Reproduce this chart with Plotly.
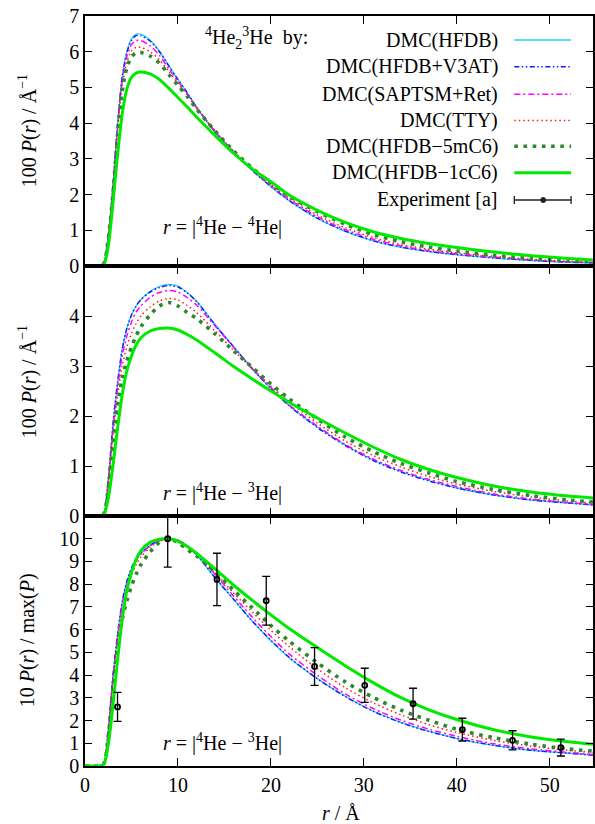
import plotly.graph_objects as go
from plotly.subplots import make_subplots

# ---------------- data ----------------
r_grid = [0, 1.0, 1.5, 2.0, 2.5, 3.0, 3.5, 4.0, 4.5, 5.0, 5.5, 6.0, 7.0, 8.0, 9.0, 10, 11, 12,
          14, 16, 18, 20, 22, 25, 28, 31, 34, 37, 40, 44, 48, 52, 54.7]

# panel 1 : 100 P(r), r = |4He - 4He|
p1_hfdb = [0, 0, 0, 0.08, 0.85, 2.2, 3.95, 5.3, 6.0, 6.36, 6.49, 6.49, 6.32, 6.02, 5.62, 5.22, 4.85, 4.45,
           3.75, 3.18, 2.67, 2.22, 1.82, 1.33, 0.97, 0.7, 0.52, 0.4, 0.31, 0.22, 0.15, 0.1, 0.08]
p1_v3at = [0, 0, 0, 0.08, 0.85, 2.2, 3.95, 5.28, 5.97, 6.32, 6.45, 6.45, 6.3, 6.0, 5.61, 5.22, 4.85, 4.45,
           3.76, 3.19, 2.68, 2.23, 1.83, 1.34, 0.98, 0.71, 0.53, 0.41, 0.32, 0.23, 0.16, 0.11, 0.09]
p1_sapt = [0, 0, 0, 0.08, 0.83, 2.15, 3.88, 5.18, 5.86, 6.2, 6.31, 6.31, 6.17, 5.9, 5.53, 5.17, 4.82, 4.43,
           3.77, 3.2, 2.7, 2.25, 1.86, 1.38, 1.02, 0.75, 0.56, 0.43, 0.34, 0.25, 0.17, 0.12, 0.1]
p1_tty = [0, 0, 0, 0.07, 0.8, 2.1, 3.78, 5.03, 5.7, 6.02, 6.12, 6.12, 6.0, 5.78, 5.45, 5.12, 4.79, 4.42,
          3.78, 3.21, 2.72, 2.28, 1.9, 1.43, 1.07, 0.8, 0.6, 0.47, 0.37, 0.27, 0.19, 0.13, 0.11]
p1_5mc6 = [0, 0, 0, 0.06, 0.75, 2.0, 3.65, 4.9, 5.55, 5.86, 5.97, 5.98, 5.88, 5.68, 5.37, 5.06, 4.75, 4.4,
           3.78, 3.22, 2.74, 2.32, 1.95, 1.52, 1.17, 0.88, 0.68, 0.53, 0.42, 0.3, 0.21, 0.15, 0.12]
p1_1cc6 = [0, 0, 0, 0.03, 0.55, 1.75, 3.1, 4.25, 4.95, 5.28, 5.4, 5.43, 5.38, 5.22, 4.98, 4.72, 4.45, 4.17,
           3.65, 3.15, 2.72, 2.36, 1.98, 1.56, 1.22, 0.96, 0.77, 0.63, 0.52, 0.39, 0.29, 0.21, 0.17]

# panel 2 : 100 P(r), r = |4He - 3He|
p2_hfdb = [0, 0, 0, 0.05, 0.7, 1.8, 2.65, 3.33, 3.75, 4.02, 4.2, 4.33, 4.49, 4.59, 4.63, 4.6, 4.47, 4.3,
           3.83, 3.39, 2.95, 2.55, 2.2, 1.78, 1.42, 1.12, 0.89, 0.71, 0.56, 0.42, 0.32, 0.26, 0.22]
p2_v3at = [0, 0, 0, 0.05, 0.72, 1.82, 2.67, 3.33, 3.75, 4.02, 4.2, 4.32, 4.48, 4.57, 4.61, 4.58, 4.46, 4.29,
           3.82, 3.38, 2.94, 2.55, 2.2, 1.77, 1.41, 1.11, 0.88, 0.7, 0.56, 0.42, 0.32, 0.26, 0.22]
p2_sapt = [0, 0, 0, 0.05, 0.67, 1.72, 2.55, 3.2, 3.6, 3.88, 4.08, 4.2, 4.37, 4.47, 4.51, 4.48, 4.37, 4.22,
           3.8, 3.37, 2.95, 2.57, 2.22, 1.8, 1.43, 1.14, 0.91, 0.73, 0.59, 0.44, 0.34, 0.27, 0.23]
p2_tty = [0, 0, 0, 0.05, 0.62, 1.6, 2.4, 3.0, 3.38, 3.65, 3.85, 4.0, 4.18, 4.3, 4.35, 4.32, 4.21, 4.07,
          3.7, 3.31, 2.95, 2.6, 2.28, 1.86, 1.5, 1.21, 0.98, 0.79, 0.64, 0.49, 0.38, 0.3, 0.26]
p2_5mc6 = [0, 0, 0, 0.04, 0.55, 1.45, 2.2, 2.75, 3.1, 3.38, 3.6, 3.78, 4.02, 4.2, 4.27, 4.2, 4.07, 3.95,
           3.64, 3.3, 2.97, 2.64, 2.34, 1.94, 1.58, 1.29, 1.05, 0.86, 0.69, 0.53, 0.41, 0.32, 0.28]
p2_1cc6 = [0, 0, 0, 0.02, 0.35, 1.0, 1.75, 2.42, 2.9, 3.2, 3.42, 3.56, 3.7, 3.75, 3.76, 3.72, 3.63, 3.52,
           3.26, 2.99, 2.74, 2.5, 2.27, 1.96, 1.66, 1.38, 1.13, 0.93, 0.77, 0.6, 0.48, 0.4, 0.36]

# experiment (panel 3)
r_exp = [3.5, 8.9, 14.2, 19.5, 24.7, 30.1, 35.3, 40.6, 46.0, 51.2]
y_exp = [2.6, 10.0, 8.21, 7.27, 4.38, 3.55, 2.74, 1.6, 1.13, 0.81]
e_exp = [0.64, 1.25, 1.15, 1.07, 0.83, 0.75, 0.68, 0.5, 0.42, 0.37]

labels = ["DMC(HFDB)", "DMC(HFDB+V3AT)", "DMC(SAPTSM+Ret)", "DMC(TTY)",
          "DMC(HFDB\u22125mC6)", "DMC(HFDB\u22121cC6)"]
exp_label = "Experiment [a]"

x_ticks = [0, 10, 20, 30, 40, 50]
y1_ticks = [0, 1, 2, 3, 4, 5, 6, 7]
y2_ticks = [0, 1, 2, 3, 4]
y3_ticks = [0, 1, 2, 3, 4, 5, 6, 7, 8, 9, 10]

# ---------------- styles ----------------
styles = [
    dict(color="#22d4ee", width=1.3, dash="solid"),
    dict(color="#1a1aff", width=1.5, dash="5px,2.5px,1.5px,2.5px,1.5px,2.5px"),
    dict(color="#ff00ff", width=1.5, dash="6px,3px,2px,3px"),
    dict(color="#ff1a1a", width=1.5, dash="1.5px,3px"),
    dict(color="#2a8a2a", width=3.6, dash="3.6px,5.6px"),
    dict(color="#00ea00", width=3, dash="solid"),
]

p1 = [p1_hfdb, p1_v3at, p1_sapt, p1_tty, p1_5mc6, p1_1cc6]
p2 = [p2_hfdb, p2_v3at, p2_sapt, p2_tty, p2_5mc6, p2_1cc6]
p3 = [[10.0 * v / max(s) for v in s] for s in p2]

FONT = "Liberation Serif"
W, H = 595, 824
ML, MR, MT, MB = 85, 0, 16, 58
PW, PH = W - ML - MR, H - MT - MB


def px(x):
    return (x - ML) / PW


def py(y):
    return (H - MB - y) / PH


fig = make_subplots(rows=3, cols=1, shared_xaxes=True, vertical_spacing=0)

for row, data in ((1, p1), (2, p2), (3, p3)):
    for lab, s, st in zip(labels, data, styles):
        fig.add_trace(go.Scatter(x=r_grid, y=s, mode="lines", name=lab,
                                 line=dict(shape="spline", smoothing=0.8, **st),
                                 showlegend=False), row=row, col=1)

fig.add_trace(go.Scatter(x=r_exp, y=y_exp, mode="markers", name=exp_label,
                         marker=dict(symbol="circle-open", size=5, color="black",
                                     line=dict(width=1.8, color="black")),
                         error_y=dict(type="data", array=e_exp, visible=True,
                                      color="black", thickness=1.3, width=4),
                         showlegend=False), row=3, col=1)

axis_common = dict(showline=True, linecolor="black", linewidth=1.5, mirror="ticks",
                   ticks="inside", tickcolor="black", tickwidth=1.3,
                   showgrid=False, zeroline=False,
                   tickfont=dict(family=FONT, size=20, color="black"))

for i in (1, 2, 3):
    fig.update_xaxes(range=[0, 54.66], tickvals=x_ticks, ticklen=8,
                     showticklabels=(i == 3), row=i, col=1, **axis_common)

fig.update_yaxes(range=[0, 7], tickvals=y1_ticks, ticklen=7, row=1, col=1, **axis_common)
fig.update_yaxes(range=[0, 5], tickvals=y2_ticks, ticklen=7, row=2, col=1, **axis_common)
fig.update_yaxes(range=[0, 11], tickvals=y3_ticks, ticklen=7, row=3, col=1, **axis_common)

ann = []
tf = dict(family=FONT, size=20, color="black")

# y titles
for txt, yc in (("100 <i>P</i>(<i>r</i>) / \u00c5<sup>\u22121</sup>", 131),
                ("100 <i>P</i>(<i>r</i>) / \u00c5<sup>\u22121</sup>", 382),
                ("10 <i>P</i>(<i>r</i>) / max(<i>P</i>)", 640)):
    ann.append(dict(text=txt, x=px(27), y=py(yc), xref="paper", yref="paper",
                    xanchor="center", yanchor="middle", textangle=-90,
                    showarrow=False, font=tf))

# x title
ann.append(dict(text="<i>r</i> / \u00c5", x=px(342), y=py(813), xref="paper", yref="paper",
                xanchor="center", yanchor="middle", showarrow=False, font=tf))

# panel captions
for iso, yc in (("4", 226), ("3", 492), ("3", 742)):
    ann.append(dict(text="<i>r</i> = |<sup>4</sup>He \u2212 <sup>%s</sup>He|" % iso,
                    x=px(161), y=py(yc), xref="paper", yref="paper",
                    xanchor="left", yanchor="middle", showarrow=False, font=tf))

# key title
ann.append(dict(text="<sup>4</sup>He<sub>2</sub><sup>3</sup>He\u00a0\u00a0by:",
                x=px(203), y=py(38), xref="paper", yref="paper",
                xanchor="left", yanchor="middle", showarrow=False, font=tf))

# key entries
rows_y = [40, 66.7, 94.2, 120.5, 146.3, 172.7, 200]
shapes = []
for lab, st, yy in zip(labels + [exp_label], styles + [None], rows_y):
    ann.append(dict(text=lab, x=px(502), y=py(yy), xref="paper", yref="paper",
                    xanchor="right", yanchor="middle", showarrow=False, font=tf))
    if st is not None:
        shapes.append(dict(type="line", xref="paper", yref="paper",
                           x0=px(516), x1=px(573), y0=py(yy), y1=py(yy),
                           line=dict(color=st["color"], width=st["width"], dash=st["dash"])))
    else:
        shapes.append(dict(type="line", xref="paper", yref="paper",
                           x0=px(516), x1=px(573), y0=py(yy), y1=py(yy),
                           line=dict(color="#222222", width=1.3)))
        for xc in (516, 573):
            shapes.append(dict(type="line", xref="paper", yref="paper",
                               x0=px(xc), x1=px(xc), y0=py(yy - 4), y1=py(yy + 4),
                               line=dict(color="#222222", width=1.3)))
        shapes.append(dict(type="circle", xref="paper", yref="paper",
                           x0=px(542.5), x1=px(547.5), y0=py(yy + 2.5), y1=py(yy - 2.5),
                           line=dict(color="#222222", width=1), fillcolor="#222222"))

fig.update_layout(width=W, height=H, margin=dict(l=ML, r=MR, t=MT, b=MB),
                  paper_bgcolor="white", plot_bgcolor="white",
                  annotations=ann, shapes=shapes, showlegend=False,
                  font=dict(family=FONT, size=20, color="black"))

fig.write_html("out.html", config={"displayModeBar": False},
               post_script="document.body.style.margin='0';document.body.style.padding='0';")
